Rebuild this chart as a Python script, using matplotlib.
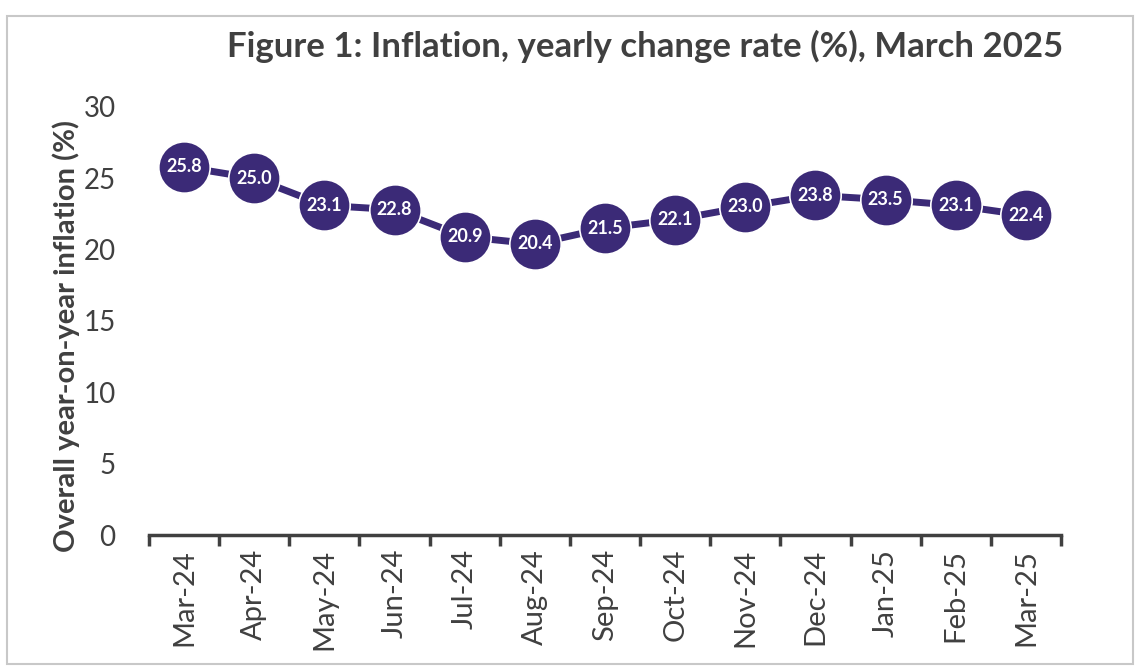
import numpy as np
import matplotlib.pyplot as plt
from matplotlib.patches import Rectangle

# Data
months = ['Mar-24', 'Apr-24', 'May-24', 'Jun-24', 'Jul-24', 'Aug-24', 'Sep-24',
          'Oct-24', 'Nov-24', 'Dec-24', 'Jan-25', 'Feb-25', 'Mar-25']
inflation = [25.8, 25.0, 23.1, 22.8, 20.9, 20.4, 21.5, 22.1, 23.0, 23.8, 23.5, 23.1, 22.4]

plt.rcParams['font.family'] = ['Lato', 'DejaVu Sans']
purple = '#3b2a77'
grey = '#404040'

fig = plt.figure(figsize=(11.4, 6.68), dpi=100)
ax = fig.add_axes([0.1307, 0.199, 0.8, 0.641])

x = np.arange(len(months))
ax.plot(x, inflation, color=purple, linewidth=5, marker='o', markersize=37,
        markerfacecolor=purple, markeredgecolor='white', markeredgewidth=1.2,
        zorder=3)
for xi, v in zip(x, inflation):
    ax.text(xi, v, f'{v:.1f}', ha='center', va='center', color='white',
            fontsize=13, fontweight='bold', zorder=4)

ax.set_xlim(-0.5, len(months) - 0.5)
ax.set_ylim(0, 30)
ax.set_yticks(range(0, 31, 5))
ax.set_xticks(x)
ax.set_xticklabels(months, rotation=90)
ax.set_xticks(np.arange(-0.5, len(months)), minor=True)
ax.tick_params(axis='x', which='major', length=0, pad=10, labelsize=21, labelcolor=grey)
ax.tick_params(axis='x', which='minor', length=8, width=2.5, color=grey, direction='out')
ax.tick_params(axis='y', length=0, pad=24, labelsize=20, labelcolor=grey)

for s in ['top', 'right', 'left']:
    ax.spines[s].set_visible(False)
ax.spines['bottom'].set_color(grey)
ax.spines['bottom'].set_linewidth(2.5)

ax.set_ylabel('Overall year-on-year inflation (%)', fontsize=21, fontweight='bold',
              color=grey, labelpad=6)
ax.yaxis.set_label_coords(-0.076, 0.465)
fig.text(0.566, 0.93, 'Figure 1: Inflation, yearly change rate (%), March 2025',
         ha='center', va='center', fontsize=25, fontweight='bold', color=grey)

fig.patches.append(Rectangle((0.006, 0.006), 0.988, 0.97, transform=fig.transFigure,
                             fill=False, edgecolor='#c8c8c8', linewidth=1.5))

fig.savefig('out.png', dpi=100)
